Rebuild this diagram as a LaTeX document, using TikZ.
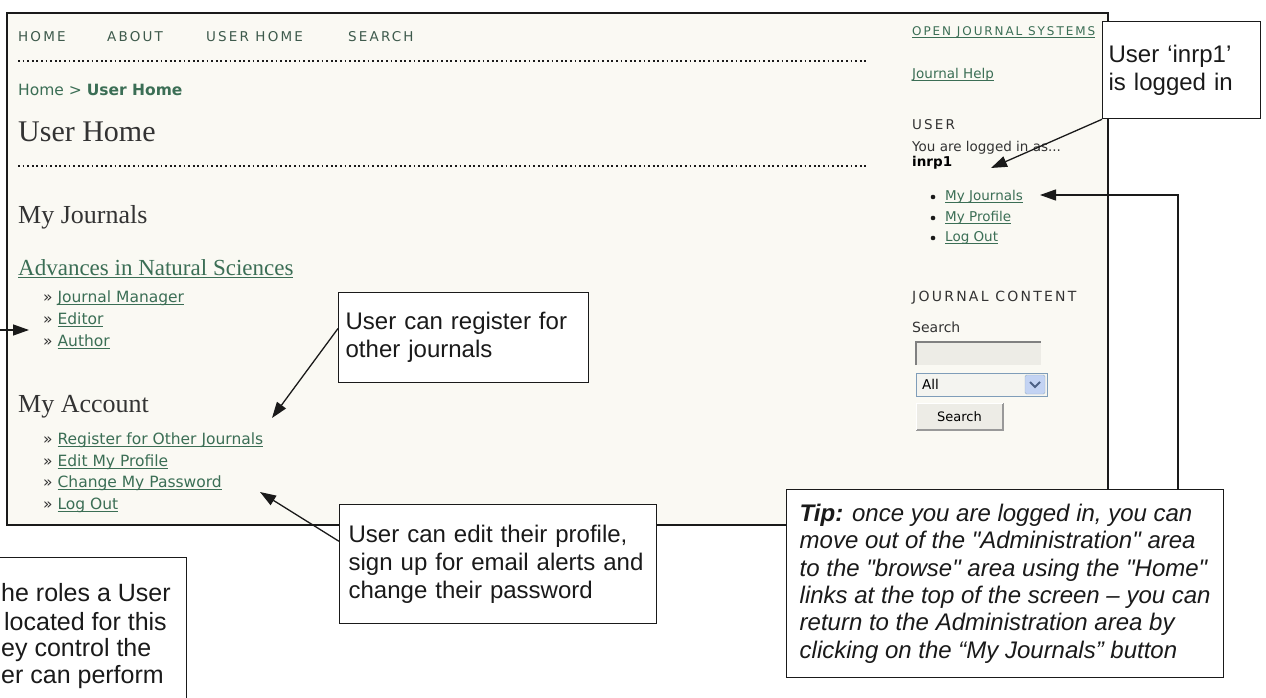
\documentclass[tikz,border=0pt]{standalone}
\usepackage{fontspec}
\setmainfont{Liberation Sans}
\newfontfamily\notas{Liberation Sans}
\newfontfamily\web{DejaVu Sans}
\newfontfamily\versal[LetterSpace=16]{DejaVu Sans}
\newfontfamily\webserif{Liberation Serif}
\usetikzlibrary{positioning,arrows.meta,calc}
\definecolor{tinta}{HTML}{1A1A1A}
\definecolor{crema}{HTML}{FAF9F3}
\definecolor{enlace}{HTML}{3B6E55}
\definecolor{musgo}{HTML}{3E5A4C}
\definecolor{texto}{HTML}{333333}
\definecolor{campo}{HTML}{EDECE6}
\definecolor{borde}{HTML}{7F9DB9}
\definecolor{azulxp}{HTML}{C3D3F3}
\definecolor{flechaxp}{HTML}{4D6185}

% subrayado de enlace
\newsavebox\subcaja
\newcommand\subr[1]{\sbox\subcaja{#1}\rlap{\rule[-2.6pt]{\wd\subcaja}{0.9pt}}\usebox\subcaja}

\begin{document}
\begin{tikzpicture}[x=1pt, y=-1pt, font=\web\fontsize{15.5}{18}\selectfont,
    nota/.style={draw=tinta, line width=1.3pt, fill=white, align=left, inner ysep=0pt,
      text=tinta, font=\notas\fontsize{24}{28}\selectfont},
    flecha/.style={tinta, line width=1.3pt, -{Triangle[length=16pt,width=11pt]}},
    enl/.style={anchor=west, inner sep=0pt, text=enlace},
    lado/.style={anchor=west, inner sep=0pt, font=\web\fontsize{13.5}{16}\selectfont},
    titulo/.style={anchor=base west, inner sep=0pt, text=texto,
      font=\webserif\fontsize{26}{30}\selectfont}]
  \useasboundingbox (0,0) rectangle (1266,698);

  % pantalla
  \draw[tinta, line width=1.8pt, fill=crema] (7,13) rectangle (1108,525);
  \foreach \x/\t [count=\i] in {18/HOME, 107/ABOUT, 206/USER HOME, 348/SEARCH}
    \node[anchor=west, inner sep=0pt, text=musgo, font=\versal\fontsize{13.5}{16}\selectfont]
      (nav\i) at (\x,37) {\t};
  \draw[tinta, line width=1.8pt, dash pattern=on 1.8pt off 2.8pt] (18,61) -- (868,61);
  \draw[tinta, line width=1.8pt, dash pattern=on 1.8pt off 2.8pt] (18,166) -- (868,166);

  \node[enl] (migas) at (18,90) {Home > \textbf{User Home}};
  \node[titulo, font=\webserif\fontsize{30}{34}\selectfont] (inicio) at (18,142) {User Home};
  \node[titulo] (revistas) at (18,223) {My Journals};
  \node[titulo, text=enlace, font=\webserif\fontsize{23}{27}\selectfont] (revista) at (18,275)
    {\subr{Advances in Natural Sciences}};
  \foreach \y/\t [count=\i] in {298/Journal Manager, 320/Editor, 342/Author}
    \node[enl] (rol\i) at (43,\y) {\textcolor{texto}{»} \subr{\t}};
  \node[titulo] (cuenta) at (18,412) {My Account};
  \foreach \y/\t [count=\i] in {440/Register for Other Journals, 462/Edit My Profile,
      483/Change My Password, 505/Log Out}
    \node[enl] (cta\i) at (43,\y) {\textcolor{texto}{»} \subr{\t}};

  % columna lateral
  \node[lado, text=enlace, font=\versal\fontsize{12}{14}\selectfont] (ojs) at (912,32)
    {\subr{OPEN JOURNAL SYSTEMS}};
  \node[lado, text=enlace] (ayuda) at (912,75) {\subr{Journal Help}};
  \node[lado, text=texto, font=\versal\fontsize{13.5}{16}\selectfont] (usuario) at (912,125) {USER};
  \node[lado, text=texto] (sesion) at (912,148) {You are logged in as...};
  \node[lado, text=black] (nombre) at (912,163) {\textbf{inrp1}};
  \foreach \y/\t [count=\i] in {197/My Journals, 218/My Profile, 238/Log Out} {
    \fill[tinta] (933,\y) circle (2.3);
    \node[lado, text=enlace] (lnk\i) at (945,\y) {\subr{\t}};
  }
  \node[lado, text=texto, font=\versal\fontsize{14}{16}\selectfont] (contenido) at (912,298)
    {JOURNAL CONTENT};
  \node[lado, text=texto, font=\web\fontsize{14}{16}\selectfont] (buscar) at (912,327) {Search};
  \fill[campo] (916,342) rectangle (1041,365);
  \draw[gray, line width=1.5pt] (916,365) -- (916,342) -- (1041,342);
  \draw[borde, fill=campo!60!white, line width=1pt] (916,373) rectangle (1047,396);
  \node[lado, text=black] (todo) at (922,384.5) {All};
  \draw[borde!80, fill=azulxp, rounded corners=1.5pt] (1025,375) rectangle (1045,394);
  \draw[flechaxp, line width=2pt] (1030,382) -- (1035,387) -- (1040,382);
  \fill[campo] (916,403) rectangle (1003,430);
  \draw[gray!80, line width=1.5pt] (916,430) -- (1003,430) -- (1003,403);
  \draw[white, line width=1pt] (916,430) -- (916,403) -- (1003,403);
  \node[inner sep=0pt, text=black, font=\web\fontsize{13}{16}\selectfont] (boton) at (959.5,416.5) {Search};

  % notas
  \node[nota, anchor=north west, text width=146, inner xsep=6, minimum height=97]
    (logeado) at (1102,21) {User ‘inrp1’\\is logged in};
  \node[nota, anchor=north west, text width=236, inner xsep=7, minimum height=90]
    (registro) at (338,292) {User can register for\\other journals};
  \node[nota, anchor=north west, text width=299, inner xsep=9, minimum height=119]
    (perfil) at (339,504) {User can edit their profile,\\sign up for email alerts and\\change their password};
  \node[nota, anchor=north west, minimum width=437, minimum height=188,
      font=\notas\itshape\fontsize{24}{27.4}\selectfont] (consejo) at (786,489)
    {\textbf{Tip:} once you are logged in, you can\\
     move out of the "Administration" area\\
     to the "browse" area using the "Home"\\
     links at the top of the screen – you can\\
     return to the Administration area by\\
     clicking on the “My Journals” button};
  \node[nota, anchor=north east, minimum width=340, minimum height=200] (roles) at (187,557) {};
  \foreach \x/\y/\t [count=\i] in {1/593/he roles a User, 4/622/located for this,
      1/650/ey control the, 1/677/er can perform}
    \node[anchor=west, inner sep=0pt, text=tinta, font=\notas\fontsize{25}{28}\selectfont]
      (rolestxt\i) at (\x,\y) {\t};

  % flechas
  \coordinate (dstroles) at (29,330);
  \draw[flecha] (roles.west) -- ++(-20,0) |- (dstroles);
  \coordinate (dstregistro) at (272,418);
  \draw[flecha] ($(registro.north west)!0.4!(registro.south west)$) -- (dstregistro);
  \coordinate (dstperfil) at (260,492);
  \draw[flecha] ($(perfil.north west)!0.31!(perfil.south west)$) -- (dstperfil);
  \coordinate (dstsesion) at (991,168);
  \draw[flecha] (logeado.south west) -- (dstsesion);
  \coordinate (dstrevistas) at (1040,195);
  \draw[flecha] ([xshift=392pt]consejo.north west) |- (dstrevistas);
\end{tikzpicture}
\end{document}
